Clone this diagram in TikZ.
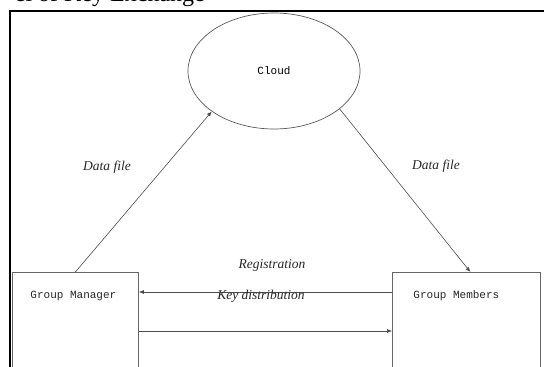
\documentclass[tikz,border=0pt]{standalone}
\usepackage{fontspec}
\setmainfont{Liberation Serif}
\setmonofont{Liberation Mono}
\usepackage{tikz}
\usetikzlibrary{positioning,arrows.meta,shapes.geometric,calc}

\begin{document}
\begin{tikzpicture}[
  x=1pt, y=-1pt,
  >={Latex[length=5pt,width=4pt]},
  party/.style={draw=black!60, line width=0.8pt, minimum width=126pt, minimum height=150pt, inner sep=0pt},
  cloudshape/.style={draw=black!65, ellipse, line width=0.7pt, minimum width=172pt, minimum height=116pt, inner sep=0pt, font=\ttfamily\fontsize{11}{13}\selectfont},
  boxtext/.style={font=\ttfamily\fontsize{11}{13}\selectfont, text=black!85},
  lbl/.style={font=\itshape\fontsize{13.5}{15}\selectfont, text=black!85},
  msg/.style={->, black!70, line width=0.6pt},
]
\useasboundingbox (0,0) rectangle (544,367);

% Title (cut off at the top)
\node[anchor=base east, font=\fontsize{24}{28}\selectfont, inner sep=0pt] (title) at (205,1) {el of Key Exchange};

% Frame
\draw[line width=2.2pt] (10,400) -- (10,11) -- (560,11);

% Cloud
\node[cloudshape] (cloud) at (274,71) {Cloud};

% Parties
\node[party, anchor=north west] (gm) at (12,272) {};
\node[party, anchor=north west, minimum width=148pt] (gmem) at (392,272) {};
\node[boxtext] (gmtext) at ($(gm.north)+(-2,24)$) {Group Manager};
\node[boxtext] (gmemtext) at ($(gmem.north)+(-10,24)$) {Group Members};

% Data files
\draw[msg] (gm.north) -- (cloud.213);
\draw[msg] (cloud.330) -- ([xshift=4pt]gmem.north);
\node[lbl] (dfleft) at (107,167) {Data file};
\node[lbl] (dfright) at (436,166) {Data file};

% Registration / key distribution
\draw[msg] ([yshift=-20pt]gmem.north west) -- ([yshift=-20pt]gm.north east);
\draw[msg] ([yshift=-59pt]gm.north east) -- ([yshift=-59pt]gmem.north west);
\node[lbl] (reg) at (272,265) {Registration};
\node[lbl] (keyd) at (261,296) {Key distribution};

\end{tikzpicture}
\end{document}
